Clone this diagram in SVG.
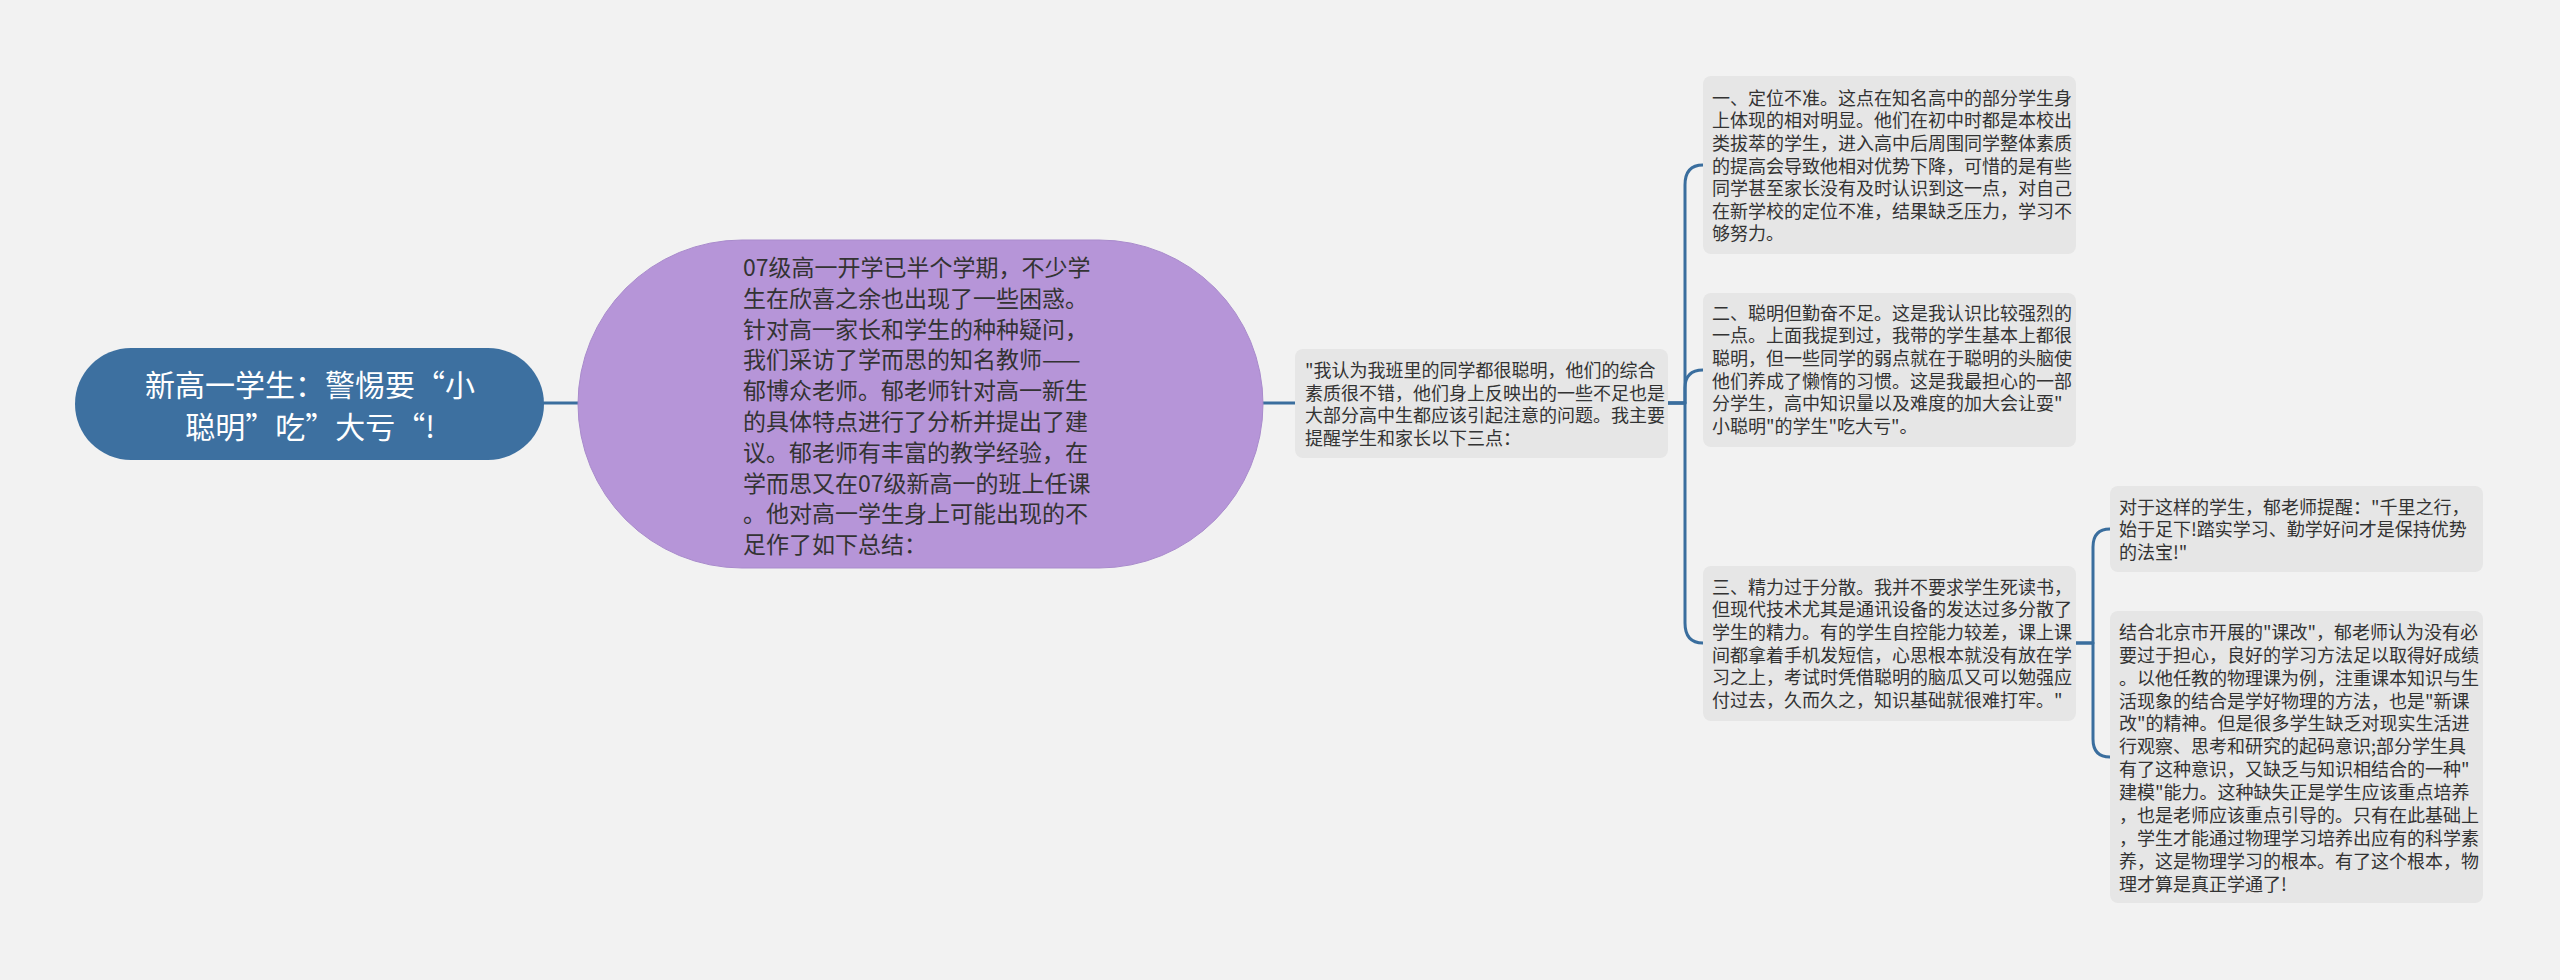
<svg xmlns="http://www.w3.org/2000/svg" width="2560" height="980" viewBox="0 0 2560 980">
<style>
.bg{fill:#f2f2f2}
.edge{fill:none;stroke:#3a6e9e;stroke-width:3;stroke-linecap:round;stroke-linejoin:round}
.box{fill:#e6e6e6}
.t{font-family:"Noto Sans CJK SC","Noto Sans",sans-serif;fill:#333333}
.s{font-size:18px}
.p{font-size:23px}
.r{font-size:30px;fill:#ffffff;text-anchor:middle}
</style>
<rect class="bg" x="0" y="0" width="2560" height="980"/>
<g id="connectors">
<path class="edge" d="M544 403 H578"/>
<path class="edge" d="M1263 403 H1295"/>
<path class="edge" d="M1668 403 H1685 V185 Q1685 165 1703 165"/>
<path class="edge" d="M1668 403 H1685 V388 Q1685 370 1703 370"/>
<path class="edge" d="M1668 403 H1685 V623 Q1685 643 1703 643"/>
<path class="edge" d="M2076 643 H2093 V547 Q2093 529 2110 529"/>
<path class="edge" d="M2076 643 H2093 V739 Q2093 757 2110 757"/>
</g>
<g id="root">
<rect x="75" y="348" width="469" height="112" rx="56" fill="#3d70a0"/>
<text class="t r"><tspan x="310" y="396">新高一学生：警惕要“小</tspan><tspan x="310" y="438">聪明”吃”大亏“!</tspan></text>
</g>
<g id="intro">
<rect x="578" y="240" width="685" height="328" rx="164" fill="#b695d8" stroke="#a98bcc" stroke-width="1"/>
<text class="t p">
<tspan x="743" y="276">07级高一开学已半个学期，不少学</tspan>
<tspan x="743" y="306.8">生在欣喜之余也出现了一些困惑。</tspan>
<tspan x="743" y="337.6">针对高一家长和学生的种种疑问，</tspan>
<tspan x="743" y="368.4">我们采访了学而思的知名教师——</tspan>
<tspan x="743" y="399.2">郁博众老师。郁老师针对高一新生</tspan>
<tspan x="743" y="430">的具体特点进行了分析并提出了建</tspan>
<tspan x="743" y="460.8">议。郁老师有丰富的教学经验，在</tspan>
<tspan x="743" y="491.6">学而思又在07级新高一的班上任课</tspan>
<tspan x="743" y="522.4">。他对高一学生身上可能出现的不</tspan>
<tspan x="743" y="553.2">足作了如下总结：</tspan>
</text>
</g>
<g id="quote">
<rect class="box" x="1295" y="349" width="373" height="109" rx="8"/>
<text class="t s">
<tspan x="1305" y="376.8">"我认为我班里的同学都很聪明，他们的综合</tspan>
<tspan x="1305" y="399.5">素质很不错，他们身上反映出的一些不足也是</tspan>
<tspan x="1305" y="422.2">大部分高中生都应该引起注意的问题。我主要</tspan>
<tspan x="1305" y="444.9">提醒学生和家长以下三点：</tspan>
</text>
</g>
<g id="point1">
<rect class="box" x="1703" y="76" width="373" height="178" rx="8"/>
<text class="t s">
<tspan x="1712" y="104.8">一、定位不准。这点在知名高中的部分学生身</tspan>
<tspan x="1712" y="127.4">上体现的相对明显。他们在初中时都是本校出</tspan>
<tspan x="1712" y="150">类拔萃的学生，进入高中后周围同学整体素质</tspan>
<tspan x="1712" y="172.6">的提高会导致他相对优势下降，可惜的是有些</tspan>
<tspan x="1712" y="195.2">同学甚至家长没有及时认识到这一点，对自己</tspan>
<tspan x="1712" y="217.8">在新学校的定位不准，结果缺乏压力，学习不</tspan>
<tspan x="1712" y="240.4">够努力。</tspan>
</text>
</g>
<g id="point2">
<rect class="box" x="1703" y="293" width="373" height="154" rx="8"/>
<text class="t s">
<tspan x="1712" y="319.8">二、聪明但勤奋不足。这是我认识比较强烈的</tspan>
<tspan x="1712" y="342.4">一点。上面我提到过，我带的学生基本上都很</tspan>
<tspan x="1712" y="365">聪明，但一些同学的弱点就在于聪明的头脑使</tspan>
<tspan x="1712" y="387.6">他们养成了懒惰的习惯。这是我最担心的一部</tspan>
<tspan x="1712" y="410.2">分学生，高中知识量以及难度的加大会让耍"</tspan>
<tspan x="1712" y="432.8">小聪明"的学生"吃大亏"。</tspan>
</text>
</g>
<g id="point3">
<rect class="box" x="1703" y="566" width="373" height="155" rx="8"/>
<text class="t s">
<tspan x="1712" y="593.8">三、精力过于分散。我并不要求学生死读书，</tspan>
<tspan x="1712" y="616.4">但现代技术尤其是通讯设备的发达过多分散了</tspan>
<tspan x="1712" y="639">学生的精力。有的学生自控能力较差，课上课</tspan>
<tspan x="1712" y="661.6">间都拿着手机发短信，心思根本就没有放在学</tspan>
<tspan x="1712" y="684.2">习之上，考试时凭借聪明的脑瓜又可以勉强应</tspan>
<tspan x="1712" y="706.8">付过去，久而久之，知识基础就很难打牢。"</tspan>
</text>
</g>
<g id="advice1">
<rect class="box" x="2110" y="486" width="373" height="86" rx="8"/>
<text class="t s">
<tspan x="2119" y="513.8">对于这样的学生，郁老师提醒："千里之行，</tspan>
<tspan x="2119" y="536.4">始于足下!踏实学习、勤学好问才是保持优势</tspan>
<tspan x="2119" y="559">的法宝!"</tspan>
</text>
</g>
<g id="advice2">
<rect class="box" x="2110" y="611" width="373" height="292" rx="8"/>
<text class="t s">
<tspan x="2119" y="638.8">结合北京市开展的"课改"，郁老师认为没有必</tspan>
<tspan x="2119" y="661.7">要过于担心，良好的学习方法足以取得好成绩</tspan>
<tspan x="2119" y="684.6">。以他任教的物理课为例，注重课本知识与生</tspan>
<tspan x="2119" y="707.5">活现象的结合是学好物理的方法，也是"新课</tspan>
<tspan x="2119" y="730.4">改"的精神。但是很多学生缺乏对现实生活进</tspan>
<tspan x="2119" y="753.3">行观察、思考和研究的起码意识;部分学生具</tspan>
<tspan x="2119" y="776.2">有了这种意识，又缺乏与知识相结合的一种"</tspan>
<tspan x="2119" y="799.1">建模"能力。这种缺失正是学生应该重点培养</tspan>
<tspan x="2119" y="822">，也是老师应该重点引导的。只有在此基础上</tspan>
<tspan x="2119" y="844.9">，学生才能通过物理学习培养出应有的科学素</tspan>
<tspan x="2119" y="867.8">养，这是物理学习的根本。有了这个根本，物</tspan>
<tspan x="2119" y="890.7">理才算是真正学通了!</tspan>
</text>
</g>
</svg>
